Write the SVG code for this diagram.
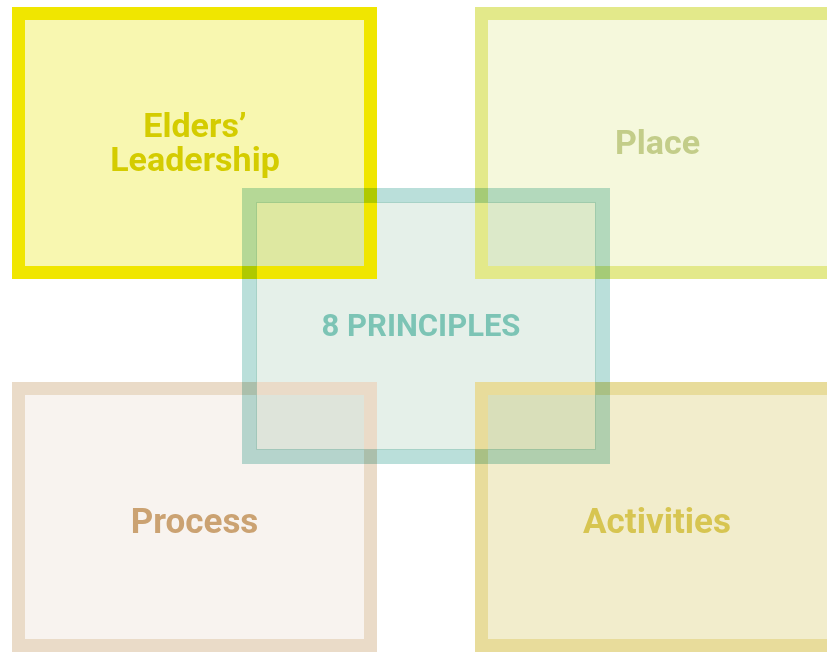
<svg xmlns="http://www.w3.org/2000/svg" width="827" height="652" viewBox="0 0 827 652">
<style>
.box{stroke-width:13}
.fillm{mix-blend-mode:multiply}
.lbl{font-family:Roboto,"Liberation Sans",sans-serif;font-weight:700;text-anchor:middle}
.frame{mix-blend-mode:multiply}
</style>
<rect x="0" y="0" width="827" height="652" fill="#ffffff"/>
<g id="principles">
<rect x="256" y="202" width="340" height="248" fill="#e5f0e9"/>
<text class="lbl" x="421" y="335.5" font-size="31" fill="#7cc4b5">8 PRINCIPLES</text>
</g>
<g id="elders">
<rect class="fillm" x="18.5" y="13.5" width="352" height="259" fill="#f8f7b0"/>
<rect class="box" x="18.5" y="13.5" width="352" height="259" fill="none" stroke="#f0e600"/>
<text class="lbl" font-size="34" fill="#d4cc00"><tspan x="195" y="136.5">Elders’</tspan><tspan x="195" y="171">Leadership</tspan></text>
</g>
<g id="place">
<rect class="fillm" x="481.5" y="13.5" width="352" height="259" fill="#f5f8dc"/>
<rect class="box" x="481.5" y="13.5" width="352" height="259" fill="none" stroke="#e3e98a"/>
<text class="lbl" x="657.5" y="154" font-size="34" fill="#c3cd89">Place</text>
</g>
<g id="process">
<rect class="fillm" x="18.5" y="388.5" width="352" height="257" fill="#f8f3ef"/>
<rect class="box" x="18.5" y="388.5" width="352" height="257" fill="none" stroke="#eadbc8"/>
<text class="lbl" x="194.5" y="533" font-size="35" fill="#cba272">Process</text>
</g>
<g id="activities">
<rect class="fillm" x="481.5" y="388.5" width="352" height="257" fill="#f2edcc"/>
<rect class="box" x="481.5" y="388.5" width="352" height="257" fill="none" stroke="#e8dc9b"/>
<text class="lbl" x="657" y="533" font-size="35" fill="#d7c551">Activities</text>
</g>
<g id="principles-frame" class="frame">
<rect x="249.5" y="195.5" width="353" height="261" fill="none" stroke="#badfda" stroke-width="15"/>
</g>
<g id="connectors"></g>
</svg>
